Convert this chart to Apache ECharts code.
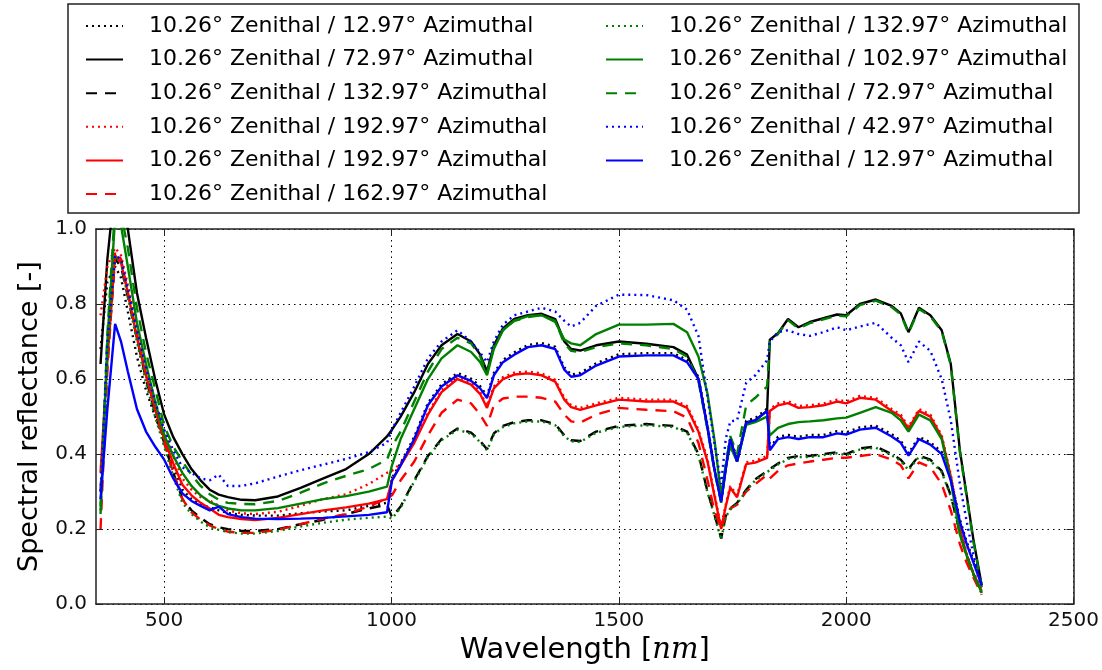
<!DOCTYPE html>
<html>
<head>
<meta charset="utf-8">
<script src="https://cdn.jsdelivr.net/npm/echarts@6/dist/echarts.min.js"></script>
<style>
    html, body { margin: 0; padding: 0; background: #fff; }
    #chart1 { width: 1102px; height: 670px; }
</style>
</head>
<body>
<div id="chart1"></div>
<script>
// 波长 (nm)
var wavelength = [360, 375, 392, 405, 420, 440, 460, 480, 500, 520,
    540, 560, 580, 600, 620, 640, 670, 700, 750, 800,
    850, 900, 950, 990, 1001, 1020, 1050, 1080, 1110, 1145,
    1175, 1195, 1210, 1225, 1245, 1270, 1300, 1330, 1360, 1380,
    1395, 1415, 1450, 1500, 1560, 1620, 1650, 1675, 1695, 1710,
    1725, 1735, 1745, 1760, 1780, 1800, 1826, 1832, 1850, 1872,
    1895, 1920, 1950, 1980, 2000, 2030, 2065, 2100, 2120, 2137,
    2160, 2185, 2210, 2230, 2250, 2265, 2280, 2298];

var blackDotted = [0.68, 0.86, 0.90, 0.87, 0.78, 0.66, 0.57, 0.50, 0.44, 0.37,
    0.305, 0.28, 0.265, 0.258, 0.25, 0.243, 0.238, 0.236, 0.236, 0.242,
    0.247, 0.25, 0.262, 0.27, 0.336, 0.376, 0.446, 0.536, 0.586, 0.616,
    0.601, 0.581, 0.555, 0.616, 0.651, 0.671, 0.691, 0.696, 0.686, 0.631,
    0.612, 0.616, 0.642, 0.666, 0.669, 0.669, 0.651, 0.606, 0.476, 0.366,
    0.279, 0.366, 0.446, 0.386, 0.489, 0.496, 0.521, 0.416, 0.446, 0.451,
    0.446, 0.451, 0.451, 0.461, 0.458, 0.471, 0.476, 0.453, 0.436, 0.402,
    0.446, 0.431, 0.406, 0.336, 0.226, 0.166, 0.116, 0.056];
var blackSolid = [0.64, 0.92, 1.12, 1.12, 1.00, 0.83, 0.71, 0.60, 0.505, 0.445,
    0.40, 0.36, 0.33, 0.305, 0.292, 0.285, 0.278, 0.277, 0.287, 0.31,
    0.335, 0.36, 0.40, 0.447, 0.465, 0.50, 0.565, 0.64, 0.69, 0.72,
    0.70, 0.665, 0.62, 0.69, 0.735, 0.76, 0.77, 0.774, 0.76, 0.70,
    0.68, 0.676, 0.69, 0.70, 0.694, 0.685, 0.665, 0.60, 0.47, 0.36,
    0.273, 0.36, 0.44, 0.38, 0.485, 0.49, 0.515, 0.705, 0.722, 0.76,
    0.738, 0.752, 0.762, 0.772, 0.77, 0.80, 0.812, 0.795, 0.775, 0.725,
    0.79, 0.77, 0.73, 0.64, 0.41, 0.29, 0.17, 0.05];
var blackDashed = [0.30, 0.66, 0.92, 0.90, 0.82, 0.71, 0.60, 0.51, 0.43, 0.35,
    0.28, 0.25, 0.23, 0.213, 0.205, 0.20, 0.195, 0.195, 0.20, 0.213,
    0.225, 0.24, 0.255, 0.265, 0.232, 0.26, 0.33, 0.395, 0.44, 0.468,
    0.457, 0.435, 0.413, 0.455, 0.475, 0.485, 0.49, 0.49, 0.48, 0.45,
    0.437, 0.435, 0.46, 0.475, 0.48, 0.475, 0.46, 0.40, 0.30, 0.24,
    0.175, 0.235, 0.255, 0.27, 0.305, 0.333, 0.355, 0.36, 0.375, 0.39,
    0.395, 0.395, 0.40, 0.405, 0.40, 0.415, 0.42, 0.40, 0.385, 0.36,
    0.396, 0.385, 0.355, 0.29, 0.19, 0.13, 0.08, 0.03];
var redDotted = [0.77, 0.90, 0.95, 0.93, 0.85, 0.74, 0.63, 0.54, 0.46, 0.395,
    0.335, 0.305, 0.285, 0.276, 0.262, 0.25, 0.242, 0.24, 0.246, 0.262,
    0.28, 0.293, 0.32, 0.35, 0.355, 0.375, 0.435, 0.51, 0.57, 0.605,
    0.59, 0.565, 0.528, 0.58, 0.605, 0.617, 0.62, 0.615, 0.598, 0.55,
    0.53, 0.523, 0.535, 0.55, 0.545, 0.545, 0.528, 0.465, 0.385, 0.295,
    0.205, 0.265, 0.315, 0.29, 0.378, 0.382, 0.395, 0.52, 0.535, 0.541,
    0.528, 0.53, 0.535, 0.545, 0.54, 0.555, 0.55, 0.52, 0.505, 0.472,
    0.52, 0.505, 0.45, 0.345, 0.205, 0.135, 0.085, 0.04];
var redSolid = [0.35, 0.65, 0.93, 0.91, 0.83, 0.71, 0.61, 0.52, 0.44, 0.375,
    0.318, 0.29, 0.27, 0.255, 0.238, 0.232, 0.227, 0.224, 0.23, 0.24,
    0.25, 0.258, 0.268, 0.28, 0.33, 0.37, 0.43, 0.505, 0.565, 0.60,
    0.585, 0.56, 0.523, 0.575, 0.60, 0.612, 0.615, 0.61, 0.593, 0.545,
    0.525, 0.518, 0.53, 0.545, 0.54, 0.54, 0.523, 0.46, 0.38, 0.29,
    0.20, 0.26, 0.31, 0.285, 0.373, 0.377, 0.39, 0.515, 0.53, 0.536,
    0.523, 0.525, 0.53, 0.54, 0.535, 0.55, 0.545, 0.515, 0.50, 0.467,
    0.515, 0.50, 0.445, 0.34, 0.20, 0.13, 0.08, 0.035];
var redDashed = [0.20, 0.62, 0.94, 0.92, 0.83, 0.72, 0.61, 0.52, 0.43, 0.35,
    0.28, 0.245, 0.225, 0.21, 0.20, 0.193, 0.19, 0.19, 0.198, 0.213,
    0.228, 0.24, 0.26, 0.282, 0.29, 0.33, 0.38, 0.45, 0.51, 0.545,
    0.535, 0.505, 0.475, 0.53, 0.548, 0.553, 0.553, 0.55, 0.54, 0.505,
    0.487, 0.484, 0.505, 0.523, 0.518, 0.514, 0.497, 0.43, 0.33, 0.25,
    0.20, 0.235, 0.255, 0.265, 0.30, 0.32, 0.345, 0.335, 0.355, 0.37,
    0.375, 0.38, 0.385, 0.39, 0.39, 0.395, 0.40, 0.385, 0.37, 0.335,
    0.378, 0.365, 0.32, 0.25, 0.16, 0.11, 0.07, 0.025];
var greenDotted = [0.25, 0.64, 0.93, 0.91, 0.82, 0.70, 0.59, 0.50, 0.42, 0.34,
    0.27, 0.24, 0.22, 0.205, 0.198, 0.192, 0.188, 0.188, 0.195, 0.207,
    0.217, 0.225, 0.23, 0.233, 0.228, 0.257, 0.327, 0.392, 0.437, 0.465,
    0.454, 0.432, 0.41, 0.452, 0.472, 0.482, 0.487, 0.487, 0.477, 0.447,
    0.434, 0.432, 0.457, 0.472, 0.477, 0.472, 0.457, 0.397, 0.297, 0.237,
    0.172, 0.232, 0.252, 0.267, 0.302, 0.33, 0.352, 0.357, 0.372, 0.387,
    0.392, 0.392, 0.397, 0.402, 0.397, 0.412, 0.417, 0.397, 0.382, 0.357,
    0.393, 0.382, 0.352, 0.287, 0.187, 0.127, 0.077, 0.027];
var greenSolid = [0.24, 0.70, 1.03, 1.01, 0.90, 0.75, 0.64, 0.54, 0.45, 0.395,
    0.35, 0.315, 0.29, 0.272, 0.262, 0.255, 0.25, 0.25, 0.256, 0.268,
    0.28, 0.288, 0.30, 0.313, 0.37, 0.44, 0.52, 0.60, 0.655, 0.69,
    0.672, 0.645, 0.61, 0.68, 0.73, 0.756, 0.768, 0.77, 0.752, 0.705,
    0.695, 0.69, 0.72, 0.745, 0.745, 0.747, 0.725, 0.66, 0.56, 0.44,
    0.29, 0.37, 0.42, 0.38, 0.478, 0.485, 0.50, 0.45, 0.47, 0.48,
    0.485, 0.487, 0.49, 0.495, 0.497, 0.51, 0.525, 0.51, 0.49, 0.46,
    0.505, 0.49, 0.44, 0.33, 0.185, 0.13, 0.08, 0.03];
var greenDashed = [0.26, 0.72, 1.06, 1.04, 0.95, 0.79, 0.67, 0.575, 0.475, 0.42,
    0.38, 0.345, 0.315, 0.293, 0.278, 0.27, 0.267, 0.266, 0.275, 0.297,
    0.322, 0.342, 0.36, 0.385, 0.42, 0.46, 0.54, 0.62, 0.68, 0.71,
    0.695, 0.66, 0.615, 0.685, 0.73, 0.755, 0.765, 0.77, 0.755, 0.695,
    0.675, 0.672, 0.685, 0.695, 0.69, 0.68, 0.66, 0.595, 0.465, 0.355,
    0.27, 0.37, 0.448, 0.40, 0.53, 0.55, 0.58, 0.70, 0.72, 0.757,
    0.735, 0.749, 0.759, 0.769, 0.767, 0.797, 0.809, 0.792, 0.772, 0.722,
    0.787, 0.767, 0.727, 0.637, 0.405, 0.285, 0.165, 0.045];
var blueDotted = [0.30, 0.70, 0.93, 0.92, 0.84, 0.73, 0.63, 0.54, 0.465, 0.41,
    0.365, 0.35, 0.335, 0.33, 0.345, 0.315, 0.315, 0.322, 0.34, 0.357,
    0.372, 0.387, 0.405, 0.43, 0.465, 0.51, 0.58, 0.655, 0.70, 0.73,
    0.70, 0.67, 0.645, 0.70, 0.745, 0.77, 0.78, 0.79, 0.78, 0.755,
    0.74, 0.75, 0.795, 0.825, 0.824, 0.81, 0.785, 0.715, 0.55, 0.43,
    0.32, 0.44, 0.487, 0.49, 0.59, 0.61, 0.65, 0.70, 0.725, 0.73,
    0.72, 0.715, 0.725, 0.738, 0.73, 0.74, 0.75, 0.71, 0.69, 0.645,
    0.70, 0.675, 0.60, 0.49, 0.32, 0.22, 0.13, 0.05];
var blueSolid = [0.28, 0.52, 0.747, 0.70, 0.62, 0.52, 0.46, 0.42, 0.385, 0.335,
    0.295, 0.275, 0.262, 0.25, 0.26, 0.24, 0.232, 0.228, 0.227, 0.228,
    0.23, 0.234, 0.238, 0.245, 0.33, 0.37, 0.44, 0.53, 0.58, 0.61,
    0.595, 0.575, 0.549, 0.61, 0.645, 0.665, 0.685, 0.69, 0.68, 0.625,
    0.606, 0.61, 0.636, 0.66, 0.663, 0.663, 0.645, 0.60, 0.47, 0.36,
    0.273, 0.36, 0.44, 0.38, 0.483, 0.49, 0.515, 0.41, 0.44, 0.445,
    0.44, 0.445, 0.445, 0.455, 0.452, 0.465, 0.47, 0.447, 0.43, 0.396,
    0.44, 0.425, 0.40, 0.33, 0.22, 0.16, 0.11, 0.05];

// 图例文字 (与曲线顺序一致)
var legendLabels = [
    '10.26° Zenithal / 12.97° Azimuthal',
    '10.26° Zenithal / 72.97° Azimuthal',
    '10.26° Zenithal / 132.97° Azimuthal',
    '10.26° Zenithal / 192.97° Azimuthal',
    '10.26° Zenithal / 192.97° Azimuthal',
    '10.26° Zenithal / 162.97° Azimuthal',
    '10.26° Zenithal / 132.97° Azimuthal',
    '10.26° Zenithal / 102.97° Azimuthal',
    '10.26° Zenithal / 72.97° Azimuthal',
    '10.26° Zenithal / 42.97° Azimuthal',
    '10.26° Zenithal / 12.97° Azimuthal'
];
var seriesKeys = ['k:', 'k-', 'k--', 'r:', 'r-', 'r--', 'g:', 'g-', 'g--', 'b:', 'b-'];
var seriesValues = [blackDotted, blackSolid, blackDashed, redDotted, redSolid, redDashed,
    greenDotted, greenSolid, greenDashed, blueDotted, blueSolid];
var xTicks = [500, 1000, 1500, 2000, 2500];

var chart1 = echarts.init(document.getElementById("chart1"));

var colorMap = {k: '#000000', r: '#ff0000', g: '#008000', b: '#0000ff'};
var dashMap = {':': [2, 4], '-': 'solid', '--': [11, 8]};

var series = [];
for (var i = 0; i < seriesKeys.length; i++) {
    var key = seriesKeys[i];
    var col = colorMap[key.charAt(0)];
    var pts = [];
    for (var j = 0; j < wavelength.length; j++) {
        pts.push([wavelength[j], seriesValues[i][j]]);
    }
    series.push({
        name: key,
        type: 'line',
        data: pts,
        symbol: 'none',
        clip: true,
        animation: false,
        itemStyle: {color: col},
        lineStyle: {color: col, width: 2.4, type: dashMap[key.substring(1)]}
    });
}

function legendName(name) {
    return legendLabels[seriesKeys.indexOf(name)];
}

var font = 'DejaVu Sans';
var legendCommon = {
    orient: 'vertical',
    top: 15,
    padding: 0,
    itemWidth: 37,
    itemHeight: 22,
    itemGap: 11.6,
    selectedMode: false,
    formatter: legendName,
    itemStyle: {opacity: 0},   // 去掉图例中的圆点
    textStyle: {fontFamily: font, fontSize: 22, color: '#000', lineHeight: 22, padding: [0, 0, 0, 21]}
};

chart1.setOption({
    backgroundColor: '#fff',
    textStyle: {fontFamily: font},
    graphic: [{
        type: 'rect',
        shape: {x: 68, y: 4, width: 1011, height: 209},
        style: {fill: 'none', stroke: '#222', lineWidth: 1.5}
    }],
    legend: [
        Object.assign({left: 85, data: seriesKeys.slice(0, 6)}, legendCommon),
        Object.assign({left: 605, data: seriesKeys.slice(6)}, legendCommon)
    ],
    grid: {left: 96, right: 28, top: 229, bottom: 62},
    xAxis: [{
        type: 'value',
        min: 350,
        max: 2500,
        name: 'Wavelength [{i|nm}]',
        nameLocation: 'middle',
        nameGap: 27,
        nameTextStyle: {
            fontSize: 29, color: '#000', fontFamily: font,
            rich: {i: {fontSize: 29, fontStyle: 'italic', fontFamily: 'DejaVu Serif', color: '#000'}}
        },
        axisLine: {show: true, onZero: false, lineStyle: {color: '#222', width: 1.5}},
        axisTick: {show: true, inside: true, length: 7, customValues: xTicks, lineStyle: {color: '#222'}},
        axisLabel: {customValues: xTicks, fontSize: 20, color: '#111', margin: 7,
            formatter: function (v) { return String(v); }},
        splitLine: {show: true, lineStyle: {color: '#000', width: 1, type: [1.5, 4]}}
    }, {
        type: 'value',
        position: 'top',
        min: 350,
        max: 2500,
        axisLine: {show: true, onZero: false, lineStyle: {color: '#222', width: 1.5}},
        axisTick: {show: true, inside: true, length: 7, customValues: xTicks, lineStyle: {color: '#222'}},
        axisLabel: {show: false},
        splitLine: {show: false}
    }],
    yAxis: [{
        type: 'value',
        min: 0,
        max: 1,
        interval: 0.2,
        name: 'Spectral reflectance [-]',
        nameLocation: 'middle',
        nameGap: 53,
        nameTextStyle: {fontSize: 27, color: '#000', fontFamily: font},
        axisLine: {show: true, onZero: false, lineStyle: {color: '#222', width: 1.5}},
        axisTick: {show: true, inside: true, length: 7, lineStyle: {color: '#222'}},
        axisLabel: {fontSize: 20, color: '#111', margin: 9, formatter: function (v) { return v.toFixed(1); }},
        splitLine: {show: true, lineStyle: {color: '#000', width: 1, type: [1.5, 4]}}
    }, {
        type: 'value',
        position: 'right',
        min: 0,
        max: 1,
        interval: 0.2,
        axisLine: {show: true, onZero: false, lineStyle: {color: '#222', width: 1.5}},
        axisTick: {show: true, inside: true, length: 7, lineStyle: {color: '#222'}},
        axisLabel: {show: false},
        splitLine: {show: false}
    }],
    series: series
});
</script>
</body>
</html>
